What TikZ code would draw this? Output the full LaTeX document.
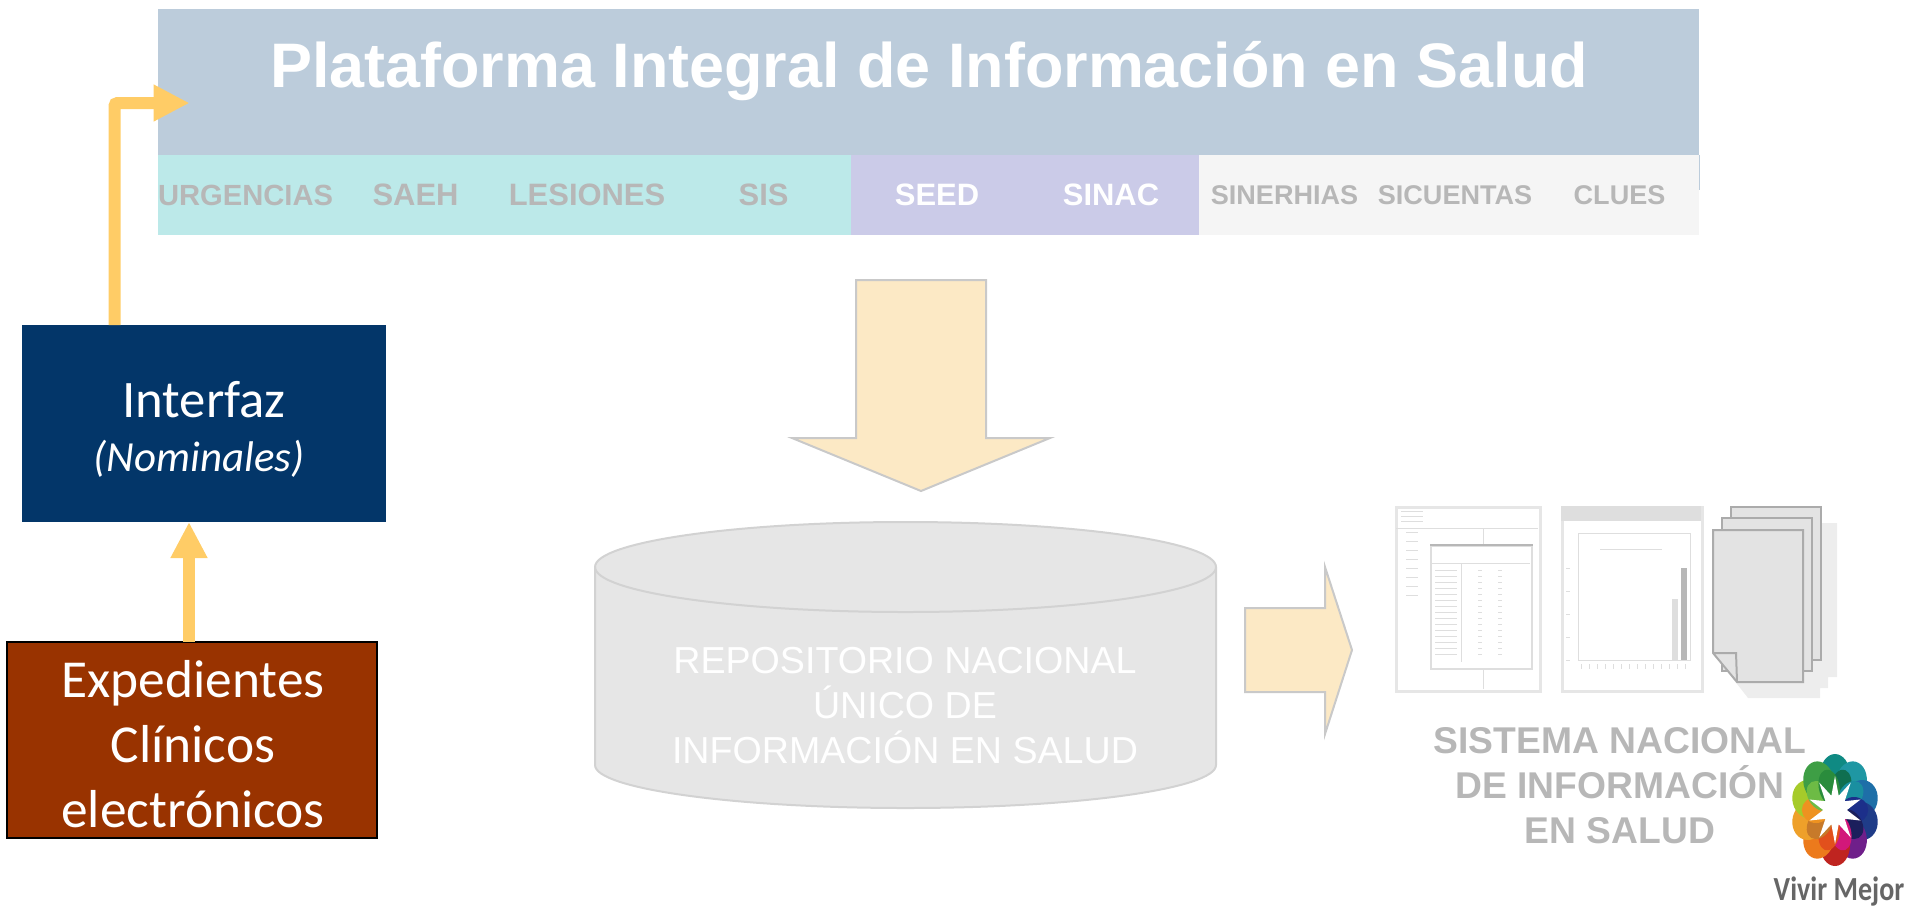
\documentclass[tikz,border=0pt]{standalone}
\usepackage{fontspec}
\setmainfont{Carlito}
\newfontfamily\arialfont{Liberation Sans}
\newfontfamily\narrowfont[FakeStretch=0.83]{Carlito}
\usetikzlibrary{positioning}
\usetikzlibrary{arrows.meta}
\definecolor{headerblue}{HTML}{BCCCDB}
\definecolor{tabteal}{HTML}{BCE9E9}
\definecolor{tabpurple}{HTML}{CBCBE8}
\definecolor{tabgrey}{HTML}{F5F5F5}
\definecolor{greytext}{HTML}{B7B7B7}
\definecolor{flowyellow}{HTML}{FFCC66}
\definecolor{blockfill}{HTML}{FCE9C5}
\definecolor{blockline}{HTML}{C9C9C9}
\definecolor{dbfill}{HTML}{E6E6E6}
\definecolor{dbline}{HTML}{D2D2D2}
\definecolor{interfazblue}{HTML}{033669}
\definecolor{recordred}{HTML}{993300}
\definecolor{thumbline}{HTML}{E6E6E6}
\definecolor{markgrey}{HTML}{DEDEDE}
\definecolor{pagefill}{HTML}{E3E3E3}
\definecolor{pageline}{HTML}{ABABAB}
\definecolor{pageshadow}{HTML}{EDEDED}
\tikzset{
	tabbox/.style={
			minimum width=#1,
			minimum height=8mm,
			inner sep=0pt,
			outer sep=0pt,
			text=greytext,
			font=\arialfont\bfseries\fontsize{8.8}{10}\selectfont
		},
	smalltab/.style={
			font=\arialfont\bfseries\fontsize{7.7}{9}\selectfont
		},
	blockarrow/.style={fill=blockfill,draw=blockline,line width=0.2mm},
	flowline/.style={
			draw=flowyellow,
			line width=1.2mm,
			-{Triangle[length=3.6mm,width=3.45mm]}
		},
	whitebox/.style={
			minimum width=#1,
			inner sep=0pt,
			outer sep=0pt
		},
	thumbframe/.style={draw=thumbline,fill=white,line width=0.3mm},
	page/.style={fill=pagefill,draw=pageline,line width=0.2mm},
	tinymark/.style={draw=markgrey,line width=0.1mm}
}
\begin{document}
\begin{tikzpicture}[x=0.1mm,y=-0.1mm]
	\useasboundingbox (0,0) rectangle (1907,908);

	% Platform header
	\node[fill=headerblue,
		minimum width=154.1mm,
		minimum height=14.6mm,
		inner sep=0pt,
		outer sep=0pt,
		anchor=north west
	] (header) at (158,9) {};

	\node[text=white,
		font=\arialfont\bfseries\fontsize{17.9}{20}\selectfont,
		anchor=base
	] (title) at (929,87) {Plataforma Integral de Información en Salud};

	% Source tabs
	\node[tabbox=17.5mm,fill=tabteal,anchor=north west,
		font=\arialfont\bfseries\fontsize{8.3}{10}\selectfont] (urgencias) at (158,155) {URGENCIAS};
	\node[tabbox=16.5mm,fill=tabteal,right=0pt of urgencias] (saeh) {SAEH};
	\node[tabbox=17.8mm,fill=tabteal,right=0pt of saeh] (lesiones) {LESIONES};
	\node[tabbox=17.5mm,fill=tabteal,right=0pt of lesiones] (sis) {SIS};
	\node[tabbox=17.2mm,fill=tabpurple,text=white,right=0pt of sis] (seed) {SEED};
	\node[tabbox=17.6mm,fill=tabpurple,text=white,right=0pt of seed] (sinac) {SINAC};
	\node[tabbox=17.1mm,fill=tabgrey,smalltab,right=0pt of sinac] (sinerhias) {SINERHIAS};
	\node[tabbox=17mm,fill=tabgrey,smalltab,right=0pt of sinerhias] (sicuentas) {SICUENTAS};
	\node[tabbox=15.9mm,fill=tabgrey,smalltab,right=0pt of sicuentas] (clues) {CLUES};

	\draw[headerblue,line width=0.1mm] (clues.north east) -- ++(0,35);

	% Block arrow down
	\draw[blockarrow] (856,280) -- (986,280) -- (986,438) -- (1050,438)
	-- (921,491) -- (792,438) -- (856,438) -- cycle;

	% Repository
	\draw[fill=dbfill,draw=dbline,line width=0.2mm] (595,567) -- (595,765)
	arc[start angle=180,end angle=0,x radius=310.5,y radius=43] -- (1216,567)
	arc[start angle=0,end angle=-180,x radius=310.5,y radius=45] -- cycle;
	\draw[dbline,line width=0.2mm] (595,567)
	arc[start angle=180,end angle=0,x radius=310.5,y radius=45];

	\node[text=white,
		align=center,
		font=\arialfont\fontsize{10.7}{12.8}\selectfont
	] (repotext) at (905,706) {REPOSITORIO NACIONAL\\ÚNICO DE\\INFORMACIÓN EN SALUD};

	% Block arrow right
	\draw[blockarrow] (1245,608) -- (1325,608) -- (1325,567) -- (1352,650)
	-- (1325,734) -- (1325,692) -- (1245,692) -- cycle;

	% Table thumbnail
	\node[thumbframe,
		minimum width=14.4mm,
		minimum height=18.4mm,
		inner sep=0pt,
		anchor=north west
	] (tablethumb) at (1395,506) {};

	\draw[tinymark] (1396,528) -- (1538,528)
	(1483,528) -- (1483,544)
	(1483,668) -- (1483,689);
	\foreach \y in {511,516,521}{
			\draw[tinymark] (1401,\y) -- ++(22,0);
		}
	\foreach \y in {532,541,...,600}{
			\draw[tinymark] (1406,\y) -- ++(12,0);
		}
	\node[draw=markgrey,
		line width=0.15mm,
		minimum width=10.1mm,
		minimum height=12.3mm,
		inner sep=0pt,
		anchor=north west
	] (innertable) at (1430,545) {};
	\draw[draw=greytext,line width=0.25mm] (innertable.north west) -- (innertable.north east);
	\draw[tinymark] (1461,563) -- (1461,662) (1431,563) -- (1530,563);
	\foreach \y in {570,576,...,655}{
			\draw[tinymark] (1435,\y) -- ++(22,0)
			(1478,\y) -- ++(4,0)
			(1498,\y) -- ++(4,0);
		}

	% Chart thumbnail
	\node[thumbframe,
		minimum width=14mm,
		minimum height=18.4mm,
		inner sep=0pt,
		anchor=north west
	] (chartthumb) at (1561,506) {};

	\fill[markgrey] (chartthumb.north west) rectangle (1701,521);
	\draw[tinymark] (1578,660) -- (1578,533) -- (1690,533) -- (1690,660) -- cycle;
	\draw[tinymark] (1600,549) -- ++(62,0);
	\fill[markgrey] (1672,599) rectangle (1678,660);
	\fill[greytext] (1681,568) rectangle (1687,660);
	\foreach \y in {568,591,614,637,660}{
			\draw[tinymark] (1566,\y) -- ++(4,0);
		}
	\foreach \x in {1581,1589,...,1685}{
			\draw[tinymark] (\x,664) -- ++(0,5);
		}

	% Stack of pages
	\fill[pageshadow] (1745,523) -- (1837,523) -- (1837,677) -- (1828,677) -- (1828,688)
	-- (1820,688) -- (1820,698) -- (1748,698) -- (1726,670) -- cycle;
	\draw[page] (1731,507) rectangle (1821,660);
	\draw[page] (1722,518) rectangle (1812,671);
	\draw[page] (1713,530) -- (1803,530) -- (1803,682) -- (1737,682) -- (1713,653) -- cycle;
	\draw[pageline,line width=0.2mm] (1713,653) -- (1736,653) -- (1737,682);

	% National system label
	\node[text=greytext,
		align=center,
		font=\arialfont\bfseries\fontsize{10.6}{12.8}\selectfont
	] (systemtext) at (1620,786) {SISTEMA NACIONAL\\DE INFORMACIÓN\\EN SALUD};

	% Flower
	\begin{scope}[shift={(1835,810)},xscale=0.79]
		\foreach \ang/\col in {90/0F8A83,54/1F97A3,18/1E6FA8,-18/1F3C88,-54/6F1F8A,
				-90/BF2420,-126/EC7A1C,-162/EEA02A,162/A6CB2A,126/3E9E45}{
				\definecolor{petal}{HTML}{\col}
				\fill[petal,rotate=\ang] (35,0) ellipse [x radius=21,y radius=19];
			}
		\foreach \ang/\col in {72/0F6F50,36/1A8FA0,0/1C2F8A,-36/1B1F5C,-72/D2187A,
				-108/E2501C,-144/C77A2A,180/EE9220,144/6DBB45,108/2A8C3C}{
				\definecolor{petal}{HTML}{\col}
				\fill[petal,rotate=\ang] (24,0) ellipse [x radius=18,y radius=13];
			}
		\fill[white] (0,-34) \foreach \i in {1,...,19}{
				-- ({-90+18*\i}:{mod(\i,2)==0?34:15})
			} -- cycle;
	\end{scope}

	\node[text=black!60,
		font=\narrowfont\bfseries\fontsize{9.6}{11}\selectfont,
		anchor=base
	] (vivir) at (1839,900) {Vivir Mejor};

	% Interface and records
	\node[whitebox=36.4mm,
		fill=interfazblue,
		minimum height=19.7mm,
		anchor=north west
	] (interfaz) at (22,325) {};

	\node[text=white,
		anchor=base,
		font=\fontsize{15}{18}\selectfont
	] (interfaztext) at (204,417) {Interfaz};

	\node[text=white,
		anchor=base,
		font=\itshape\fontsize{12.2}{15}\selectfont
	] (nominales) at (199,471) {(Nominales)};

	\node[whitebox=37mm,
		fill=recordred,
		draw=black,
		line width=0.2mm,
		minimum height=19.6mm,
		anchor=north west
	] (expedientes) at (7,642) {};

	\node[text=white,
		align=center,
		font=\fontsize{15.2}{18.5}\selectfont
	] (expedientestext) at (193,744) {Expedientes\\Clínicos\\electrónicos};

	% Arrows
	\coordinate (upx) at (189,0);
	\coordinate (titlein) at (189.5,103);
	\coordinate (bendx) at (114.5,0);

	\draw[flowline] (expedientes.north -| upx) -- (interfaz.south -| upx);

	\draw[flowline,rounded corners=0.3mm] (interfaz.north -| bendx) |- (titlein);
\end{tikzpicture}
\end{document}
